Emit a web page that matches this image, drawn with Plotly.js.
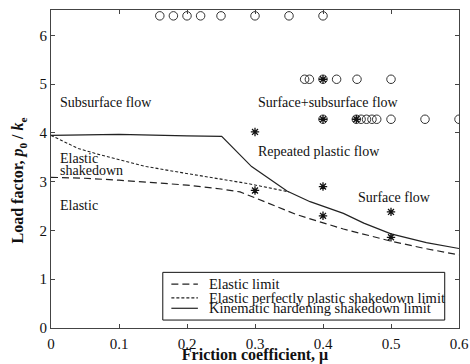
<!DOCTYPE html>
<html>
<head>
<meta charset="utf-8">
<script src="https://cdn.plot.ly/plotly-3.0.1.min.js"></script>
<style>html,body{margin:0;padding:0;background:#fff;}#chart{width:470px;height:364px;}</style>
</head>
<body>
<div id="chart"></div>
<script>
// ---- data ----
var seriesNames = ["Elastic limit", "Elastic perfectly plastic shakedown limit", "Kinematic hardening shakedown limit"];

var elasticMu   = [0, 0.05, 0.1, 0.15, 0.2, 0.25, 0.278, 0.3, 0.33, 0.36, 0.39, 0.43, 0.5, 0.55, 0.6];
var elasticLoad = [3.09, 3.07, 3.03, 2.98, 2.93, 2.85, 2.79, 2.67, 2.5, 2.33, 2.2, 2.03, 1.78, 1.63, 1.5];

var eppMu   = [0, 0.02, 0.04, 0.07, 0.1, 0.14, 0.19, 0.24, 0.29, 0.35];
var eppLoad = [3.95, 3.82, 3.68, 3.56, 3.45, 3.31, 3.19, 3.08, 2.96, 2.79];

var khMu   = [0, 0.1, 0.2, 0.251, 0.295, 0.347, 0.381, 0.43, 0.46, 0.5, 0.552, 0.6];
var khLoad = [3.95, 3.97, 3.94, 3.93, 3.31, 2.81, 2.59, 2.35, 2.15, 1.93, 1.75, 1.63];

var circleMu   = [0.16, 0.18, 0.2, 0.22, 0.25, 0.3, 0.35, 0.4,
                  0.373, 0.38, 0.4, 0.42, 0.45, 0.5,
                  0.4, 0.449, 0.456, 0.464, 0.472, 0.479, 0.5, 0.55, 0.6];
var circleLoad = [6.4, 6.4, 6.4, 6.4, 6.4, 6.4, 6.4, 6.4,
                  5.1, 5.1, 5.1, 5.1, 5.1, 5.1,
                  4.28, 4.28, 4.28, 4.28, 4.28, 4.28, 4.28, 4.28, 4.28];

var starMu   = [0.4, 0.4, 0.449, 0.3, 0.3, 0.4, 0.4, 0.5, 0.5];
var starLoad = [5.1, 4.28, 4.28, 4.02, 2.82, 2.9, 2.3, 2.38, 1.86];

var regionLabels = ["Subsurface flow", "Elastic", "shakedown", "Elastic", "Surface+subsurface flow", "Repeated plastic flow", "Surface flow"];
var regionMu     = [0.01, 0.01, 0.01, 0.01, 0.301, 0.301, 0.449];
var regionLoad   = [4.63, 3.47, 3.22, 2.52, 4.63, 3.61, 2.68];

var xTicks = [0, 0.1, 0.2, 0.3, 0.4, 0.5, 0.6];
var xTickText = ["0", "0.1", "0.2", "0.3", "0.4", "0.5", "0.6"];
var yTicks = [0, 1, 2, 3, 4, 5, 6];

// ---- styles ----
var serif = "Liberation Serif, Times New Roman, serif";
var ink = "#222";
var dashStyles = ["7px,4px", "3px,2px", "solid"];

var traces = [
  {x: elasticMu, y: elasticLoad, name: seriesNames[0], mode: "lines", line: {color: ink, width: 1.2, dash: dashStyles[0]}},
  {x: eppMu, y: eppLoad, name: seriesNames[1], mode: "lines", line: {color: ink, width: 1.1, dash: dashStyles[1]}},
  {x: khMu, y: khLoad, name: seriesNames[2], mode: "lines", line: {color: ink, width: 1.2, dash: dashStyles[2]}},
  {x: circleMu, y: circleLoad, mode: "markers", name: "open", marker: {symbol: "circle-open", size: 8.5, color: "#333", line: {width: 1, color: "#333"}}},
  {x: starMu, y: starLoad, mode: "markers", name: "star", marker: {symbol: "asterisk-open", size: 7, color: "#111", line: {width: 1.3, color: "#111"}}}
];

var annotations = regionLabels.map(function (t, i) {
  return {x: regionMu[i], y: regionLoad[i], xref: "x", yref: "y", text: t, showarrow: false,
          xanchor: "left", yanchor: "middle", font: {family: serif, size: 14, color: "#111"}};
});

// manual legend (compact, as in the figure)
var shapes = [{type: "rect", xref: "paper", yref: "paper", x0: 0.274, x1: 0.965, y0: 0.025, y1: 0.175,
               line: {color: "#111", width: 1}, fillcolor: "rgba(0,0,0,0)"}];
var legY = [0.138, 0.095, 0.062];
for (var i = 0; i < 3; i++) {
  shapes.push({type: "line", xref: "paper", yref: "paper", x0: 0.295, x1: 0.36, y0: legY[i], y1: legY[i],
               line: {color: ink, width: 1.2, dash: dashStyles[i]}});
  annotations.push({xref: "paper", yref: "paper", x: 0.382, y: legY[i], text: seriesNames[i], showarrow: false,
                    xanchor: "left", yanchor: "middle", font: {family: serif, size: 14.5, color: "#111"}});
}

// y-axis title
annotations.push({xref: "paper", yref: "paper", x: -0.08, y: 0.465, xanchor: "center", yanchor: "middle",
  text: "<b>Load factor, <i>p</i><sub>0</sub> / <i>k</i><sub>e</sub></b>", textangle: -90, showarrow: false,
  font: {family: serif, size: 16, color: "#111"}});

var axisCommon = {showline: true, linecolor: "#444", linewidth: 1, mirror: "ticks", ticks: "inside", ticklen: 4,
                  tickcolor: "#444", showgrid: false, zeroline: false, tickfont: {family: serif, size: 15, color: "#111"}};

var layout = {
  width: 470, height: 364,
  margin: {l: 51, r: 11, t: 10, b: 36},
  paper_bgcolor: "#fff", plot_bgcolor: "#fff",
  showlegend: false,
  xaxis: Object.assign({}, axisCommon, {range: [0, 0.6], tickvals: xTicks, ticktext: xTickText, ticklabelstandoff: 2,
    title: {text: "<b>Friction coefficient, μ</b>", font: {family: serif, size: 16, color: "#111"}, standoff: 3}}),
  yaxis: Object.assign({}, axisCommon, {range: [0, 6.52], tickvals: yTicks}),
  annotations: annotations,
  shapes: shapes
};

Plotly.newPlot("chart", traces, layout, {displayModeBar: false, staticPlot: true});
</script>
</body>
</html>
